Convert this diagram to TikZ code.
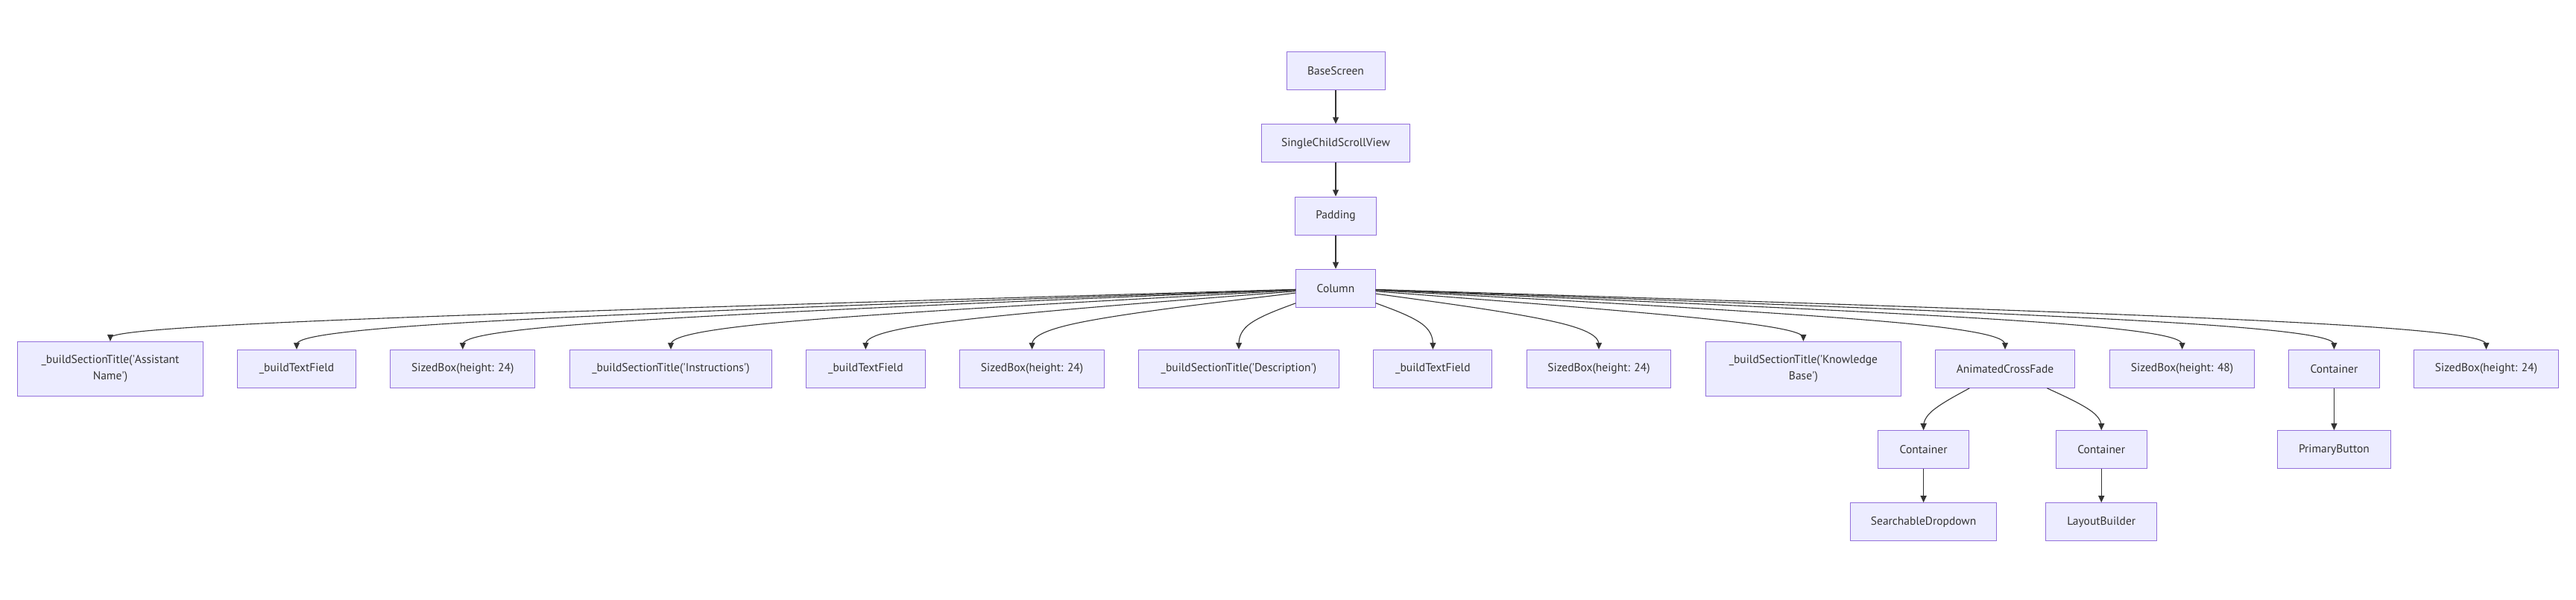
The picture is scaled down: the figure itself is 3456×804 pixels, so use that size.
\documentclass[tikz,border=0pt]{standalone}
\usepackage{fontspec}
\setmainfont{PT Sans}
\usetikzlibrary{arrows.meta,calc}
\definecolor{nodefill}{HTML}{ECECFF}
\definecolor{nodeline}{HTML}{9370DB}
\definecolor{edgecol}{HTML}{333333}
\definecolor{txtcol}{HTML}{333333}
\tikzset{
  box/.style={draw=nodeline, fill=nodefill, line width=1pt, inner sep=0pt,
    minimum height=51pt, text=txtcol, font=\fontsize{15.5}{22}\selectfont, align=center},
  tall/.style={box, minimum height=73pt},
  edge/.style={draw=edgecol, line width=1.1pt, -{Triangle[length=9pt,width=8pt]}},
}
\newcommand\bedge[3]{%
  \coordinate (bm) at (#2.north |- #3);
  \coordinate (be) at (#2.north);
  \path (#1) -- (bm) coordinate[pos=0] (bs);
  \coordinate (bh) at ($(bs)!0.5!(be)$);
  \draw[edge] (bs) -- ($(bs)!0.166667!(bm)$)
    .. controls ($(bs)!0.333333!(bm)$) and ($(bs)!0.666667!(bm)$) .. ($(bm)!0.333333!(bh)$)
    .. controls ($(bm)!0.333333!(be)$) and ($(bm)!0.666667!(be)$) .. ($(bm)!0.833333!(be)$)
    -- (be);
}
\begin{document}
\begin{tikzpicture}[x=1pt,y=-1pt]
\useasboundingbox (0,0) rectangle (3456,804);
\coordinate (lvlA) at (0,435.2);
\coordinate (lvlB) at (0,554.4);
% main chain
\node[box, minimum width=132pt]   (base) at (1792,95.3)  {BaseScreen};
\node[box, minimum width=199.4pt] (scsv) at (1792,192.3) {SingleChildScrollView};
\node[box, minimum width=108.6pt] (pad)  at (1792,289.5) {Padding};
\node[box, minimum width=106.3pt] (col)  at (1792,386.7) {Column};
% row 2
\node[tall, minimum width=248.6pt] (sta) at (148,494.8) {\_buildSectionTitle(\textquotesingle Assistant\\Name\textquotesingle)};
\node[box, minimum width=159.4pt] (tf1) at (398,494.8) {\_buildTextField};
\node[box, minimum width=194.2pt] (sb1) at (620.8,494.8) {SizedBox(height: 24)};
\node[box, minimum width=271.4pt] (sti) at (900,494.8) {\_buildSectionTitle(\textquotesingle Instructions\textquotesingle)};
\node[box, minimum width=159.4pt] (tf2) at (1161.4,494.8) {\_buildTextField};
\node[box, minimum width=194.2pt] (sb2) at (1384.6,494.8) {SizedBox(height: 24)};
\node[box, minimum width=268.7pt] (std) at (1662,494.8) {\_buildSectionTitle(\textquotesingle Description\textquotesingle)};
\node[box, minimum width=159pt]   (tf3) at (1922.4,494.8) {\_buildTextField};
\node[box, minimum width=193.8pt] (sb3) at (2145,494.8) {SizedBox(height: 24)};
\node[tall, minimum width=262pt]  (stk) at (2419.4,494.8) {\_buildSectionTitle(\textquotesingle Knowledge\\Base\textquotesingle)};
\node[box, minimum width=187.5pt] (acf) at (2690,494.8) {AnimatedCrossFade};
\node[box, minimum width=194.2pt] (sb48) at (2927.6,494.8) {SizedBox(height: 48)};
\node[box, minimum width=121.7pt] (cont) at (3131.4,494.8) {Container};
\node[box, minimum width=194pt]   (sb4) at (3335.5,494.8) {SizedBox(height: 24)};
% row 3
\node[box, minimum width=121.7pt] (cl) at (2580.6,603.2) {Container};
\node[box, minimum width=121.7pt] (cr) at (2819.2,603.2) {Container};
\node[box, minimum width=152.4pt] (pb) at (3131.4,603.2) {PrimaryButton};
% row 4
\node[box, minimum width=196.7pt] (sd) at (2580.6,700.2) {SearchableDropdown};
\node[box, minimum width=148.8pt] (lb) at (2819.2,700.2) {LayoutBuilder};
% edges
\draw[edge] (base) -- (scsv);
\draw[edge] (scsv) -- (pad);
\draw[edge] (pad) -- (col);
\bedge{col}{sta}{lvlA}
\bedge{col}{tf1}{lvlA}
\bedge{col}{sb1}{lvlA}
\bedge{col}{sti}{lvlA}
\bedge{col}{tf2}{lvlA}
\bedge{col}{sb2}{lvlA}
\bedge{col}{std}{lvlA}
\bedge{col}{tf3}{lvlA}
\bedge{col}{sb3}{lvlA}
\bedge{col}{stk}{lvlA}
\bedge{col}{acf}{lvlA}
\bedge{col}{sb48}{lvlA}
\bedge{col}{cont}{lvlA}
\bedge{col}{sb4}{lvlA}
\bedge{acf}{cl}{lvlB}
\bedge{acf}{cr}{lvlB}
\draw[edge] (cl) -- (sd);
\draw[edge] (cr) -- (lb);
\draw[edge] (cont) -- (pb);
\end{tikzpicture}
\end{document}
